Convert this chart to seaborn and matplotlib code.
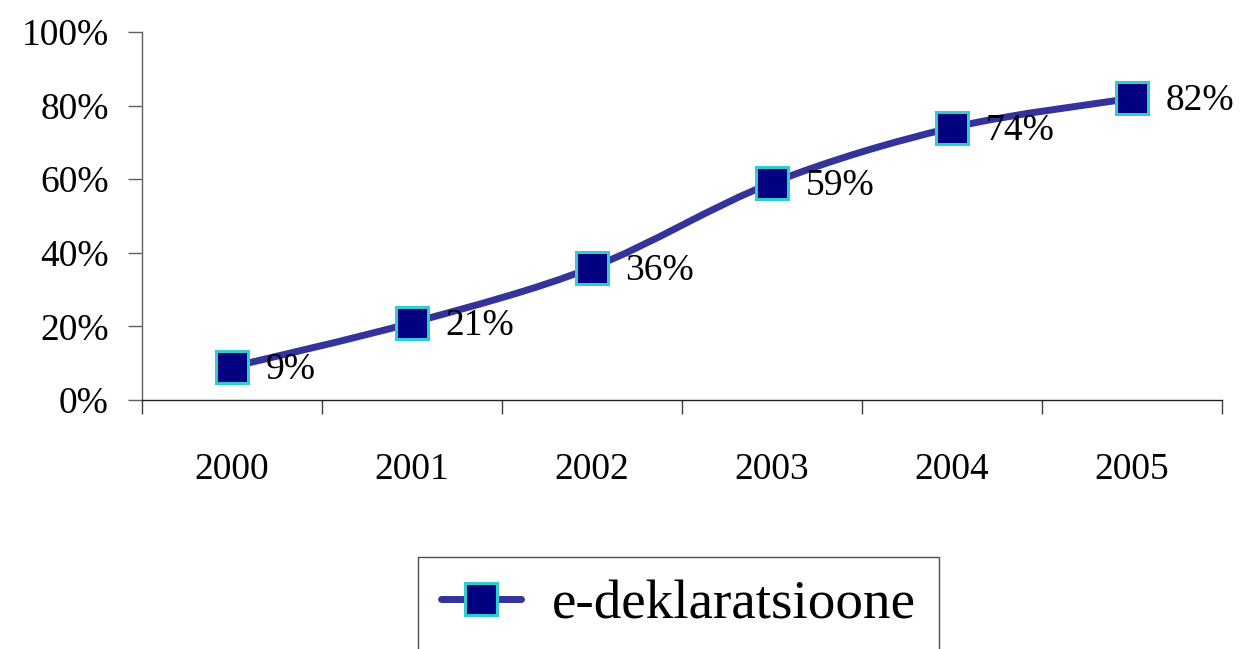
import numpy as np
import pandas as pd
import matplotlib
matplotlib.use("Agg")
import matplotlib.pyplot as plt
from matplotlib.path import Path
from matplotlib.patches import PathPatch
from matplotlib.lines import Line2D
import seaborn as sns

# data
years = ["2000", "2001", "2002", "2003", "2004", "2005"]
share = [9, 21, 36, 59, 74, 82]
labels = ["9%", "21%", "36%", "59%", "74%", "82%"]
series_name = "e-deklaratsioone"

LINE_COLOR = "#333399"
FILL_COLOR = "#000080"
EDGE_COLOR = "#33CCCC"

sns.set_style("white")
plt.rcParams["font.family"] = ["Liberation Serif", "DejaVu Serif"]
plt.rcParams["text.color"] = "black"
plt.rcParams["xtick.color"] = "black"
plt.rcParams["ytick.color"] = "black"

df = pd.DataFrame({"year": years, "share": share})

fig = plt.figure(figsize=(12.41, 6.49), dpi=100)
ax = fig.add_axes([142 / 1241, 1 - 400 / 649, 1080 / 1241, 368 / 649])

# smoothed connecting line (Catmull-Rom style bezier through the points)
xs = np.arange(len(share), dtype=float)
ys = np.array(share, dtype=float)
verts = [(xs[0], ys[0])]
codes = [Path.MOVETO]
for i in range(len(xs) - 1):
    p0 = np.array([xs[max(i - 1, 0)], ys[max(i - 1, 0)]])
    p1 = np.array([xs[i], ys[i]])
    p2 = np.array([xs[i + 1], ys[i + 1]])
    p3 = np.array([xs[min(i + 2, len(xs) - 1)], ys[min(i + 2, len(xs) - 1)]])
    c1 = p1 + (p2 - p0) / 6
    c2 = p2 - (p3 - p1) / 6
    verts += [tuple(c1), tuple(c2), tuple(p2)]
    codes += [Path.CURVE4] * 3
ax.add_patch(PathPatch(Path(verts, codes), facecolor="none", edgecolor=LINE_COLOR,
                       lw=5, capstyle="round", zorder=2))

sns.lineplot(data=df, x="year", y="share", ax=ax, linestyle="none", marker="s",
             markersize=23, markerfacecolor=FILL_COLOR, markeredgecolor=EDGE_COLOR,
             markeredgewidth=2.2, zorder=3, legend=False)

for i, (v, t) in enumerate(zip(share, labels)):
    ax.annotate(t, (i, v), xytext=(24, -2), textcoords="offset points",
                ha="left", va="center", fontsize=27, color="black", zorder=4)

ax.set_xlim(-0.5, 5.5)
ax.set_ylim(0, 100)
ax.set_yticks([0, 20, 40, 60, 80, 100])
ax.set_yticklabels([f"{v}%" for v in [0, 20, 40, 60, 80, 100]])
ax.set_xticks(range(len(years)))
ax.set_xticklabels(years)
ax.set_xticks(np.arange(-0.5, 6, 1), minor=True)
ax.tick_params(axis="x", which="major", bottom=True, length=0, pad=38,
               labelsize=27, labelcolor="black")
ax.tick_params(axis="x", which="minor", bottom=True, length=10, width=1,
               color="#404040", direction="out")
ax.tick_params(axis="y", which="major", left=True, length=10, width=1,
               color="#606060", direction="out", pad=14, labelsize=27,
               labelcolor="black")
ax.set_xlabel("")
ax.set_ylabel("")

for s in ["top", "right"]:
    ax.spines[s].set_visible(False)
ax.spines["left"].set_color("#606060")
ax.spines["bottom"].set_color("#202020")
ax.spines["left"].set_linewidth(1)
ax.spines["bottom"].set_linewidth(1)

handle = Line2D([], [], color=LINE_COLOR, lw=5, marker="s", markersize=23,
                markerfacecolor=FILL_COLOR, markeredgecolor=EDGE_COLOR,
                markeredgewidth=2.2, solid_capstyle="round")
leg = fig.legend([handle], [series_name], loc="upper left",
                 bbox_to_anchor=(418 / 1241, 1 - 557 / 649), fontsize=39.7,
                 frameon=True, fancybox=False, edgecolor="#202020",
                 handlelength=1.45, handletextpad=0.55, borderpad=0.42,
                 borderaxespad=0)
leg.get_frame().set_linewidth(1)
for txt in leg.get_texts():
    txt.set_color("black")

fig.savefig("out.png", dpi=100)
